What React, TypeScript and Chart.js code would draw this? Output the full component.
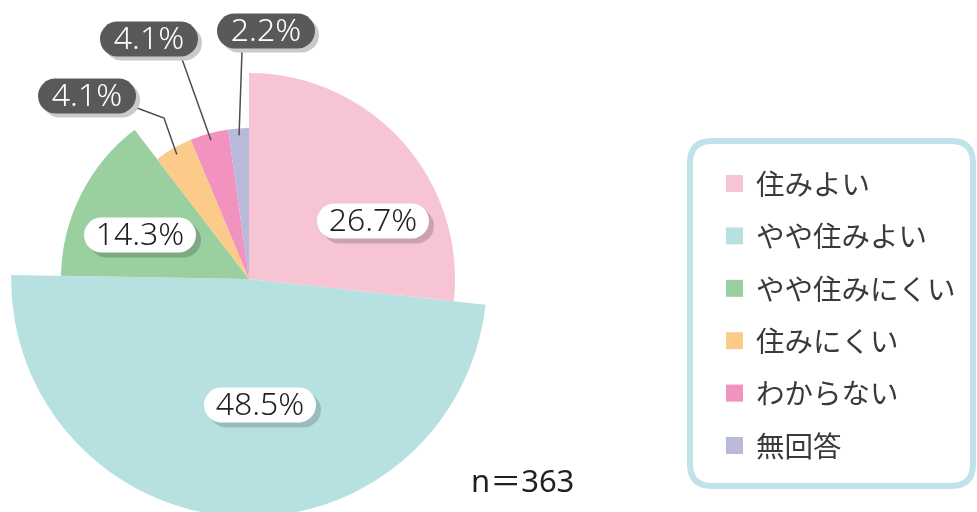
import React, { useEffect, useRef } from "react";
import { Chart, registerables } from "chart.js";

Chart.register(...registerables);

// ---- data ----
const categories = ["住みよい", "やや住みよい", "やや住みにくい", "住みにくい", "わからない", "無回答"];
const percentValues = [26.7, 48.5, 14.3, 4.1, 4.1, 2.2];
const sampleNote = "n＝363";

// ---- styles ----
const sliceColors = ["#F6C4D3", "#B7E1E1", "#9AD09F", "#FCCB8A", "#F192BF", "#B8B9DB"];
const radiusScale = [0.884, 1.021, 0.807, 0.648, 0.648, 0.648];
// label style: inner = white pill, outer = dark pill with leader line
const labelStyle = [
  { kind: "inner", dx: 124, dy: -58, shadow: "#CBA2AE" },
  { kind: "inner", dx: 11, dy: 126, shadow: "#98BBBE" },
  { kind: "inner", dx: -109, dy: -44, shadow: "#7DAA83" },
  { kind: "outer", dx: -162, dy: -183, elbow: [[-112, -171], [-85, -161]] },
  { kind: "outer", dx: -100, dy: -240, elbow: [[-67, -220]] },
  { kind: "outer", dx: 17, dy: -248, elbow: [[-7, -228]] },
];

const NUM_FONT = "300 32px 'Noto Sans', 'Noto Sans CJK JP', sans-serif";
const JP_FONT = "28.5px 'Noto Sans CJK JP', sans-serif";

function pill(ctx: CanvasRenderingContext2D, cx: number, cy: number, w: number, h: number) {
  const r = h / 2;
  const x = cx - w / 2;
  const y = cy - h / 2;
  ctx.beginPath();
  ctx.moveTo(x + r, y);
  ctx.lineTo(x + w - r, y);
  ctx.arc(x + w - r, y + r, r, -Math.PI / 2, Math.PI / 2);
  ctx.lineTo(x + r, y + h);
  ctx.arc(x + r, y + r, r, Math.PI / 2, (3 * Math.PI) / 2);
  ctx.closePath();
}

function roundRect(ctx: CanvasRenderingContext2D, x: number, y: number, w: number, h: number, r: number) {
  ctx.beginPath();
  ctx.moveTo(x + r, y);
  ctx.lineTo(x + w - r, y);
  ctx.quadraticCurveTo(x + w, y, x + w, y + r);
  ctx.lineTo(x + w, y + h - r);
  ctx.quadraticCurveTo(x + w, y + h, x + w - r, y + h);
  ctx.lineTo(x + r, y + h);
  ctx.quadraticCurveTo(x, y + h, x, y + h - r);
  ctx.lineTo(x, y + r);
  ctx.quadraticCurveTo(x, y, x + r, y);
  ctx.closePath();
}

const radiusPlugin = {
  id: "varRadius",
  beforeDatasetsDraw(chart: any) {
    const meta = chart.getDatasetMeta(0);
    const base = meta.controller.outerRadius;
    meta.data.forEach((arc: any, i: number) => {
      arc.outerRadius = base * radiusScale[i];
    });
  },
};

const labelPlugin = {
  id: "pctLabels",
  afterDatasetsDraw(chart: any) {
    const ctx: CanvasRenderingContext2D = chart.ctx;
    const meta = chart.getDatasetMeta(0);
    ctx.save();
    ctx.font = NUM_FONT;
    ctx.textAlign = "center";
    ctx.textBaseline = "middle";
    meta.data.forEach((arc: any, i: number) => {
      const st: any = labelStyle[i];
      const cx = arc.x;
      const cy = arc.y;
      const text = percentValues[i].toFixed(1) + "%";
      const tw = ctx.measureText(text).width;
      const h = 35;
      const lx = cx + st.dx;
      const ly = cy + st.dy;
      if (st.kind === "outer") {
        const w = Math.max(tw + 26, 98);
        const mid = (arc.startAngle + arc.endAngle) / 2;
        const r = arc.outerRadius - 7;
        const ex = cx + Math.cos(mid) * r;
        const ey = cy + Math.sin(mid) * r;
        ctx.strokeStyle = "#4D4E50";
        ctx.lineWidth = 1.5;
        ctx.beginPath();
        const pts = [[lx, ly], ...st.elbow.map((p: number[]) => [cx + p[0], cy + p[1]]), [ex, ey]];
        ctx.moveTo(pts[0][0], pts[0][1]);
        for (let k = 1; k < pts.length; k++) ctx.lineTo(pts[k][0], pts[k][1]);
        ctx.stroke();
        ctx.fillStyle = "#C9CACC";
        pill(ctx, lx + 4, ly + 4, w, h);
        ctx.fill();
        ctx.fillStyle = "#58595B";
        pill(ctx, lx, ly, w, h);
        ctx.fill();
        ctx.fillStyle = "#FFFFFF";
        ctx.fillText(text, lx, ly + 1);
      } else {
        const w = Math.max(tw + 22, 112);
        ctx.fillStyle = st.shadow;
        pill(ctx, lx + 5, ly + 5, w, h);
        ctx.fill();
        ctx.fillStyle = "#FFFFFF";
        pill(ctx, lx, ly, w, h);
        ctx.fill();
        ctx.fillStyle = "#231F20";
        ctx.fillText(text, lx, ly + 1);
      }
    });
    ctx.restore();
  },
};

const legendPlugin = {
  id: "boxLegend",
  afterDraw(chart: any) {
    const ctx: CanvasRenderingContext2D = chart.ctx;
    ctx.save();
    ctx.strokeStyle = "#BFE3E8";
    ctx.lineWidth = 6;
    roundRect(ctx, 690, 141, 283, 345, 22);
    ctx.stroke();
    ctx.font = JP_FONT;
    ctx.textBaseline = "middle";
    ctx.textAlign = "left";
    categories.forEach((c, i) => {
      const y = 183 + i * 52.4;
      ctx.fillStyle = sliceColors[i];
      ctx.fillRect(726, y - 8, 17, 17);
      ctx.fillStyle = "#3A3A3A";
      ctx.fillText(c, 756, y + 1);
    });
    ctx.font = "31px 'Noto Sans', 'Noto Sans CJK JP', sans-serif";
    ctx.fillStyle = "#231F20";
    ctx.textBaseline = "alphabetic";
    ctx.fillText(sampleNote, 471, 492);
    ctx.restore();
  },
};

export default function App() {
  const ref = useRef<HTMLCanvasElement>(null);
  useEffect(() => {
    if (!ref.current) return;
    const chart = new Chart(ref.current, {
      type: "pie",
      data: {
        labels: categories,
        datasets: [
          {
            data: percentValues,
            backgroundColor: sliceColors,
            borderWidth: 0,
            clip: false as any,
          },
        ],
      },
      options: {
        animation: false,
        responsive: true,
        maintainAspectRatio: false,
        events: [],
        layout: { padding: { left: 16, top: 46, right: 495, bottom: 0 } },
        plugins: { legend: { display: false }, tooltip: { enabled: false } },
      },
      plugins: [radiusPlugin, labelPlugin, legendPlugin],
    });
    return () => chart.destroy();
  }, []);
  return (
    <div style={{ position: "fixed", left: 0, top: 0, width: 977, height: 512, background: "#fff" }}>
      <canvas ref={ref} />
    </div>
  );
}
